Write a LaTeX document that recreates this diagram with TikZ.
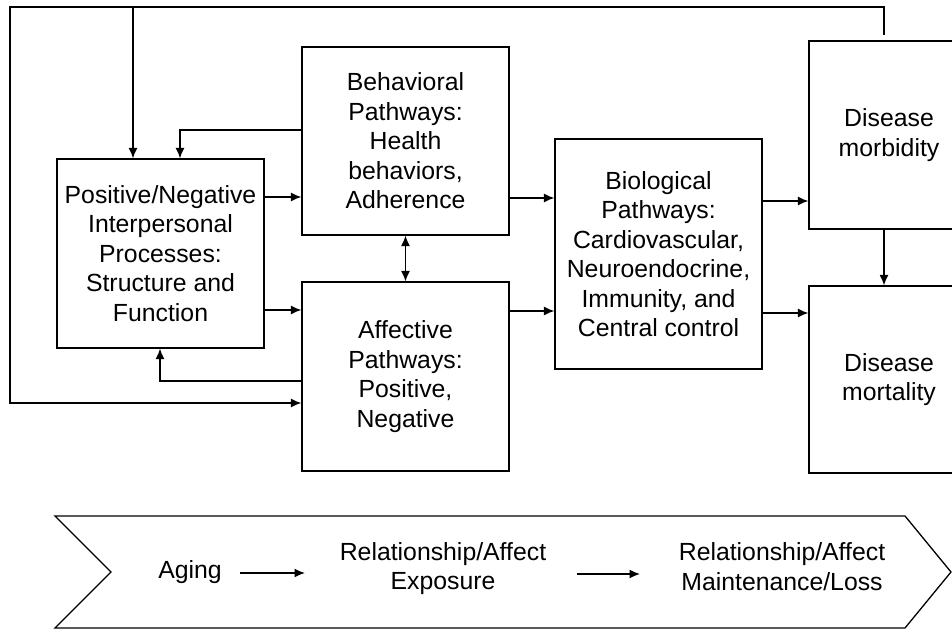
\documentclass[tikz,border=0pt]{standalone}
\usepackage{fontspec}
\setmainfont{Liberation Sans}
\usetikzlibrary{arrows.meta,calc}
\begin{document}
\begin{tikzpicture}[x=1pt,y=-1pt,
  every node/.style={font=\fontsize{24.8}{29.5}\selectfont, align=center},
  box/.style={draw, line width=1.3pt, inner sep=0pt},
  ln/.style={line width=1.3pt},
  arr/.style={ln, -{Latex[length=10.5pt,width=9pt]}},
  darr/.style={ln, {Latex[length=10.5pt,width=9pt]}-{Latex[length=10.5pt,width=9pt]}}]
\useasboundingbox (0,0) rectangle (952,631);
\clip (0,0) rectangle (952,631);
\fill[white] (0,0) rectangle (952,631);

% boxes
\node[box, minimum width=207pt, minimum height=189pt] (pn) at (160.5,253.5)
  {Positive/Negative\\Interpersonal\\Processes:\\Structure and\\Function};
\node[box, minimum width=207pt, minimum height=188pt] (beh) at (405.5,141)
  {Behavioral\\Pathways:\\Health\\behaviors,\\Adherence};
\node[box, minimum width=207pt, minimum height=189pt] (aff) at (405.5,376.5)
  {Affective\\Pathways:\\Positive,\\Negative};
\node[box, minimum width=207pt, minimum height=230pt] (bio) at (658.5,254)
  {Biological\\Pathways:\\Cardiovascular,\\Neuroendocrine,\\Immunity, and\\Central control};
\node[box, minimum width=160pt, minimum height=188pt] (mor) at (889,135)
  {Disease\\morbidity};
\node[box, minimum width=160pt, minimum height=187pt] (mort) at (889,379.5)
  {Disease\\mortality};

% feedback loop
\coordinate (fbs) at (884,35);
\coordinate (tl) at (10,7);
\coordinate (bl) at (10,403);
\coordinate (t133) at (133,7);
\draw[arr] (fbs) |- (tl) -- (bl) -- (bl -| aff.west);
\draw[arr] (t133) -- (t133 |- pn.north);

% feedback from pathways to processes
\draw[arr] ([yshift=11pt]beh.west) -| ([xshift=19.5pt]pn.north);
\draw[arr] ([yshift=-4.5pt]aff.west) -| ([xshift=-0.5pt]pn.south);

% forward arrows
\draw[arr] ([yshift=56.5pt]pn.east) -- ([yshift=56.5pt]pn.east -| beh.west);
\draw[arr] ([yshift=-56.5pt]pn.east) -- ([yshift=-56.5pt]pn.east -| aff.west);
\draw[darr] (beh.south) -- (aff.north);
\draw[arr] ([yshift=-57pt]beh.east) -- ([yshift=-57pt]beh.east -| bio.west);
\draw[arr] ([yshift=65.5pt]aff.east) -- ([yshift=65.5pt]aff.east -| bio.west);
\draw[arr] ([yshift=53pt]bio.east) -- ([yshift=53pt]bio.east -| mor.west);
\draw[arr] ([yshift=-59pt]bio.east) -- ([yshift=-59pt]bio.east -| mort.west);
\draw[arr] (mor.south -| fbs) -- (mort.north -| fbs);

% chevron timeline
\draw[ln] (55,516) -- (905,516) -- (951,572) -- (905,628) -- (55,628) -- (111,572) -- cycle;
\node (aging) at (190,572) {Aging};
\node (exp) at (443,568.5) {Relationship/Affect\\Exposure};
\node (ml) at (782,566.5) {Relationship/Affect\\Maintenance/Loss};
\coordinate (a1) at (240,573);
\coordinate (a2) at (305,573);
\coordinate (b1) at (577,574);
\coordinate (b2) at (640,574);
\draw[arr] (a1) -- (a2);
\draw[arr] (b1) -- (b2);
\end{tikzpicture}
\end{document}
